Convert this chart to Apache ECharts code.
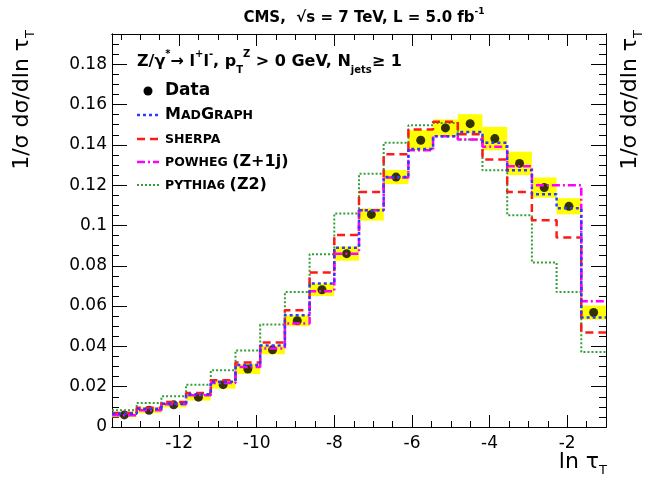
<!DOCTYPE html>
<html><head><meta charset="utf-8">
<script src="https://cdn.jsdelivr.net/npm/echarts@6/dist/echarts.min.js"></script>
<style>html,body{margin:0;padding:0;background:#fff}#c{width:649px;height:483px}</style>
</head><body><div id="c"></div>
<script>
// ---- data ----
const binEdges = [-13.73, -13.094, -12.457, -11.821, -11.184, -10.548, -9.911, -9.275, -8.638, -8.002,
  -7.365, -6.729, -6.092, -5.456, -4.819, -4.183, -3.546, -2.910, -2.273, -1.637, -1.0];
const dataVals = [0.0060, 0.0083, 0.0110, 0.0148, 0.0210, 0.0288, 0.0383, 0.0527, 0.0681, 0.0860,
  0.1055, 0.1240, 0.1423, 0.1484, 0.1505, 0.1431, 0.1308, 0.1188, 0.1095, 0.0568];
const dataErr = [0.0012, 0.0014, 0.0013, 0.0017, 0.0020, 0.0025, 0.0022, 0.0027, 0.0031, 0.0035,
  0.0031, 0.0035, 0.0050, 0.0042, 0.0047, 0.0058, 0.0058, 0.0050, 0.0040, 0.0035];
const madgraph = [0.0066, 0.0090, 0.0115, 0.0163, 0.0225, 0.0308, 0.0405, 0.0554, 0.0712, 0.0890,
  0.1075, 0.1240, 0.1380, 0.1443, 0.1464, 0.1410, 0.1274, 0.1155, 0.1085, 0.0543];
const sherpa = [0.0070, 0.0096, 0.0124, 0.0169, 0.0232, 0.0320, 0.0419, 0.0579, 0.0766, 0.0953,
  0.1166, 0.1353, 0.1476, 0.1514, 0.1453, 0.1327, 0.1166, 0.1026, 0.0940, 0.0469];
const powheg = [0.0058, 0.0083, 0.0113, 0.0157, 0.0218, 0.0298, 0.0389, 0.0513, 0.0673, 0.0860,
  0.1075, 0.1238, 0.1373, 0.1443, 0.1426, 0.1390, 0.1294, 0.1200, 0.1200, 0.0624];
const pythia = [0.0083, 0.0119, 0.0152, 0.0210, 0.0281, 0.0380, 0.0508, 0.0670, 0.0857, 0.1059,
  0.1256, 0.1410, 0.1497, 0.1509, 0.1426, 0.1274, 0.1051, 0.0816, 0.0670, 0.0372];
const xTickLabels = [-12, -10, -8, -6, -4, -2];
const xMinorTicks = [-13.5, -13, -12.5, -11.5, -11, -10.5, -9.5, -9, -8.5, -7.5, -7, -6.5, -5.5, -5, -4.5, -3.5, -3, -2.5, -1.5];
const yTickLabels = [0, 0.02, 0.04, 0.06, 0.08, 0.1, 0.12, 0.14, 0.16, 0.18];
const yMinorTicks = [0.005, 0.01, 0.015, 0.025, 0.03, 0.035, 0.045, 0.05, 0.055, 0.065, 0.07, 0.075,
  0.085, 0.09, 0.095, 0.105, 0.11, 0.115, 0.125, 0.13, 0.135, 0.145, 0.15, 0.155, 0.165, 0.17, 0.175, 0.185, 0.19];
const X_MIN = -13.73, X_MAX = -1.0, Y_MIN = 0, Y_MAX = 0.195;

// ---- build ----
const FONT = 'DejaVu Sans';
function histPoints(vals) {
  const pts = vals.map((v, i) => [binEdges[i], v]);
  pts.push([binEdges[binEdges.length - 1], vals[vals.length - 1]]);
  return pts;
}
const centers = dataVals.map((v, i) => [(binEdges[i] + binEdges[i + 1]) / 2, v]);

function xAx(pos, ticks, len, labels) {
  return {
    type: 'value', min: X_MIN, max: X_MAX, position: pos, gridIndex: 0,
    axisLine: { show: true, onZero: false, lineStyle: { color: '#000', width: 1 } },
    axisTick: { show: true, inside: true, length: len, customValues: ticks, lineStyle: { color: '#000', width: 1 } },
    axisLabel: labels ? { show: true, customValues: xTickLabels, fontFamily: FONT, fontSize: 17, color: '#000', margin: 8 } : { show: false },
    splitLine: { show: false }
  };
}
function yAx(pos, ticks, len, labels) {
  return {
    type: 'value', min: Y_MIN, max: Y_MAX, position: pos, gridIndex: 0,
    axisLine: { show: true, onZero: false, lineStyle: { color: '#000', width: 1 } },
    axisTick: { show: true, inside: true, length: len, customValues: ticks, lineStyle: { color: '#000', width: 1 } },
    axisLabel: labels ? { show: true, customValues: yTickLabels, fontFamily: FONT, fontSize: 17, color: '#000', margin: 5 } : { show: false },
    splitLine: { show: false }
  };
}

function histSeries(name, vals, color, dash, width) {
  return {
    name, type: 'line', step: 'end', data: histPoints(vals), symbol: 'none', z: 5,
    xAxisIndex: 0, yAxisIndex: 0, silent: true,
    lineStyle: { color, width, type: dash, cap: 'butt' }
  };
}

const C_MG = '#2b3bff', C_SH = '#ff1a1a', C_PW = '#ff00ff', C_PY = '#33a033';
const D_MG = [3, 3], D_SH = [8, 5], D_PW = [8, 3, 2, 3], D_PY = [2, 2];

const legX0 = 137, legX1 = 159, legTX = 165;
function legLine(y, color, dash, width) {
  return { type: 'line', shape: { x1: legX0, y1: y, x2: legX1, y2: y }, style: { stroke: color, lineWidth: width, lineDash: dash }, z: 10 };
}
function txt(x, y, text, rich, extra) {
  return Object.assign({ type: 'text', x, y, z: 10,
    style: Object.assign({ text, rich, fill: '#000', fontFamily: FONT, textVerticalAlign: 'middle' }, extra || {}) });
}
const bigB = { fontFamily: FONT, fontWeight: 'bold', fontSize: 16, lineHeight: 22, fill: '#000' };
const smB = { fontFamily: FONT, fontWeight: 'bold', fontSize: 12.5, lineHeight: 22, fill: '#000', padding: [2, 0, 0, 0] };

const chart = echarts.init(document.getElementById('c'), null, { renderer: 'canvas' });
chart.setOption({
  animation: false,
  backgroundColor: '#fff',
  grid: { left: 112, right: 43, top: 34, bottom: 56, containLabel: false },
  xAxis: [xAx('bottom', xTickLabels, 12, true), xAx('bottom', xMinorTicks, 6, false),
          xAx('top', xTickLabels, 12, false), xAx('top', xMinorTicks, 6, false)],
  yAxis: [yAx('left', yTickLabels, 15, true), yAx('left', yMinorTicks, 7, false),
          yAx('right', yTickLabels, 15, false), yAx('right', yMinorTicks, 7, false)],
  series: [
    {
      type: 'custom', xAxisIndex: 0, yAxisIndex: 0, silent: true, z: 1,
      data: dataVals.map((v, i) => [binEdges[i], binEdges[i + 1], v - dataErr[i], v + dataErr[i]]),
      encode: { x: [0, 1], y: [2, 3] },
      renderItem: (params, api) => {
        const p0 = api.coord([api.value(0), api.value(3)]);
        const p1 = api.coord([api.value(1), api.value(2)]);
        return { type: 'rect', shape: { x: p0[0], y: p0[1], width: p1[0] - p0[0], height: p1[1] - p0[1] }, style: { fill: '#ffff00' } };
      }
    },
    { name: 'Data', type: 'scatter', data: centers, symbol: 'circle', symbolSize: 9, itemStyle: { color: '#000' }, z: 3, silent: true },
    histSeries('PYTHIA6 (Z2)', pythia, C_PY, D_PY, 2),
    histSeries('SHERPA', sherpa, C_SH, D_SH, 2.5),
    histSeries('POWHEG (Z+1j)', powheg, C_PW, D_PW, 2.5),
    histSeries('MadGraph', madgraph, C_MG, D_MG, 2.5)
  ],
  graphic: [
    // title
    txt(364, 18, '{b|CMS,  √s = 7 TeV, L = 5.0 fb}{sup|-1}', {
      b: { fontFamily: FONT, fontWeight: 'bold', fontSize: 15, lineHeight: 22, fill: '#000' },
      sup: { fontFamily: FONT, fontWeight: 'bold', fontSize: 9, lineHeight: 22, verticalAlign: 'top', fill: '#000' }
    }, { textAlign: 'center' }),
    // header
    txt(137, 62, '{b|Z/γ}{sup|*}{b|→ l}{sup|+}{b|l}{sup|-}{b|, p}{sub|T}{sup|Z}{b| > 0 GeV, N}{sub|jets}{b|≥ 1}', {
      b: { fontFamily: FONT, fontWeight: 'bold', fontSize: 16, lineHeight: 26, fill: '#000' },
      sup: { fontFamily: FONT, fontWeight: 'bold', fontSize: 10, lineHeight: 26, verticalAlign: 'top', fill: '#000' },
      sub: { fontFamily: FONT, fontWeight: 'bold', fontSize: 10, lineHeight: 26, verticalAlign: 'bottom', fill: '#000' }
    }),
    // legend
    { type: 'circle', shape: { cx: 148, cy: 91, r: 4.5 }, style: { fill: '#000' }, z: 10 },
    txt(legTX, 91, '{b|Data}', { b: Object.assign({}, bigB, { fontSize: 17 }) }),
    legLine(115, C_MG, D_MG, 2.5),
    txt(legTX, 115, '{b|M}{s|AD}{b|G}{s|RAPH}', { b: bigB, s: smB }),
    legLine(139, C_SH, D_SH, 2.5),
    txt(legTX, 139, '{s|SHERPA}', { s: smB }),
    legLine(162, C_PW, D_PW, 2.5),
    txt(legTX, 162, '{s|POWHEG }{b|(Z+1j)}', { b: bigB, s: smB }),
    legLine(185, C_PY, D_PY, 2),
    txt(legTX, 185, '{s|PYTHIA6 }{b|(Z2)}', { b: bigB, s: smB }),
    // axis titles
    txt(607, 462, '{t|ln τ}{s|T}', {
      t: { fontFamily: FONT, fontSize: 22, lineHeight: 30, fill: '#000' },
      s: { fontFamily: FONT, fontSize: 13, lineHeight: 30, verticalAlign: 'bottom', fill: '#000' }
    }, { textAlign: 'right' }),
    Object.assign(txt(22, 30, '{t|1/σ dσ/dln τ}{s|T}', {
      t: { fontFamily: FONT, fontSize: 22, lineHeight: 30, fill: '#000' },
      s: { fontFamily: FONT, fontSize: 13, lineHeight: 30, verticalAlign: 'bottom', fill: '#000' }
    }, { textAlign: 'right' }), { rotation: Math.PI / 2 }),
    Object.assign(txt(630, 30, '{t|1/σ dσ/dln τ}{s|T}', {
      t: { fontFamily: FONT, fontSize: 22, lineHeight: 30, fill: '#000' },
      s: { fontFamily: FONT, fontSize: 13, lineHeight: 30, verticalAlign: 'bottom', fill: '#000' }
    }, { textAlign: 'right' }), { rotation: Math.PI / 2 })
  ]
});
</script></body></html>
